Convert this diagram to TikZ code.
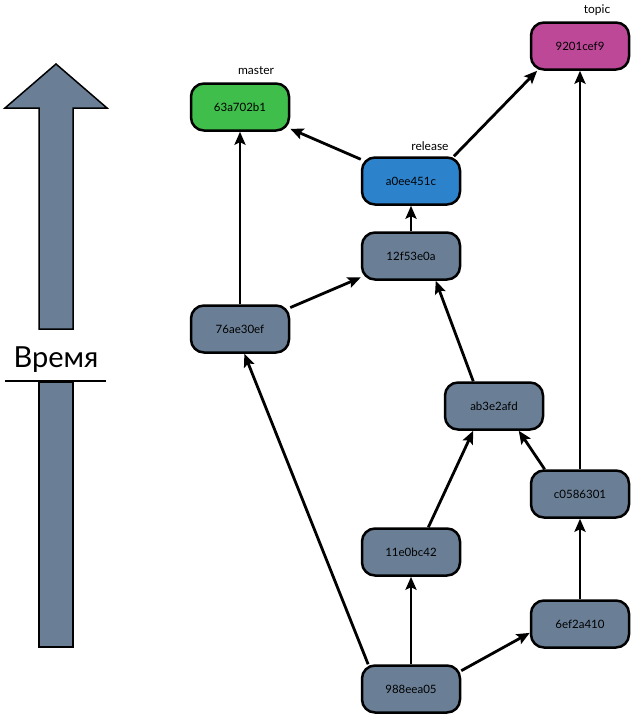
\documentclass[tikz,border=0pt]{standalone}
\usepackage{fontspec}
\setmainfont{Lato}
\usetikzlibrary{shapes, arrows.meta, positioning}

\definecolor{slate}{RGB}{106,127,150}
\definecolor{mastergreen}{RGB}{64,190,76}
\definecolor{releaseblue}{RGB}{44,131,204}
\definecolor{topicpink}{RGB}{190,72,152}

\begin{document}
\begin{tikzpicture}[x=1pt, y=-1pt,
commit/.style={rectangle, text centered, rounded corners=13pt, minimum width=98pt,
minimum height=47pt, line width=2.5pt, draw=black, fill=slate,
font=\fontsize{11.5}{13}\selectfont},
commit-master/.style={commit, fill=mastergreen},
commit-release/.style={commit, fill=releaseblue},
commit-topic/.style={commit, fill=topicpink},
tag/.style={inner sep=0pt, font=\fontsize{12}{14}\selectfont},
timeline/.style={draw=black, line width=1.5pt, fill=slate, line join=miter},
line/.style={draw, line width=2.8pt, -{Stealth[length=13pt, width=11pt, inset=2.5pt]}}
]
\useasboundingbox (0,0) rectangle (640,720);

% time axis
\draw[timeline] (39,647) rectangle (73,382);
\draw[timeline] (39,329) -- (39,108) -- (5,108) -- (56,64) -- (107,108) -- (73,108) -- (73,329) -- cycle;
\node[anchor=base, inner sep=0pt, font=\fontsize{29}{34}\selectfont] (zeit) at (56,367) {Время};
\draw[line width=2pt] (5,381) -- (106,381);

% commits
\node[commit-master] (c63a702b1) at (240,107) {63a702b1};
\node[commit-release] (ca0ee451c) at (411,181) {a0ee451c};
\node[commit-topic] (c9201cef9) at (580,46) {9201cef9};
\node[commit] (c12f53e0a) at (411,256) {12f53e0a};
\node[commit] (c76ae30ef) at (240,329) {76ae30ef};
\node[commit] (cab3e2afd) at (494,406) {ab3e2afd};
\node[commit] (cc0586301) at (580,494) {c0586301};
\node[commit] (c11e0bc42) at (411,552) {11e0bc42};
\node[commit] (c6ef2a410) at (580,624) {6ef2a410};
\node[commit] (c988eea05) at (411,689) {988eea05};

% branch names
\node[tag] (master) at (256,71) {master};
\node[tag] (release) at (430,146) {release};
\node[tag] (topic) at (597,10) {topic};

\path [line] (c76ae30ef) -- (c63a702b1);
\path [line] (ca0ee451c) -- (c63a702b1);
\path [line] (ca0ee451c.30) -- (c9201cef9.-150);
\path [line] (c12f53e0a) -- (ca0ee451c);
\path [line] (c76ae30ef) -- (c12f53e0a);
\path [line] (cab3e2afd.130) -- (c12f53e0a.-45);
\path [line] (c11e0bc42.55) -- (cab3e2afd.-130);
\path [line] (cc0586301.145) -- (cab3e2afd.-45);
\path [line] (cc0586301) -- (c9201cef9);
\path [line] (c6ef2a410) -- (cc0586301);
\path [line] (c988eea05) -- (c11e0bc42);
\path [line] (c988eea05.20) -- (c6ef2a410.190);
\path [line] (c988eea05.150) -- (c76ae30ef.-80);
\end{tikzpicture}
\end{document}
